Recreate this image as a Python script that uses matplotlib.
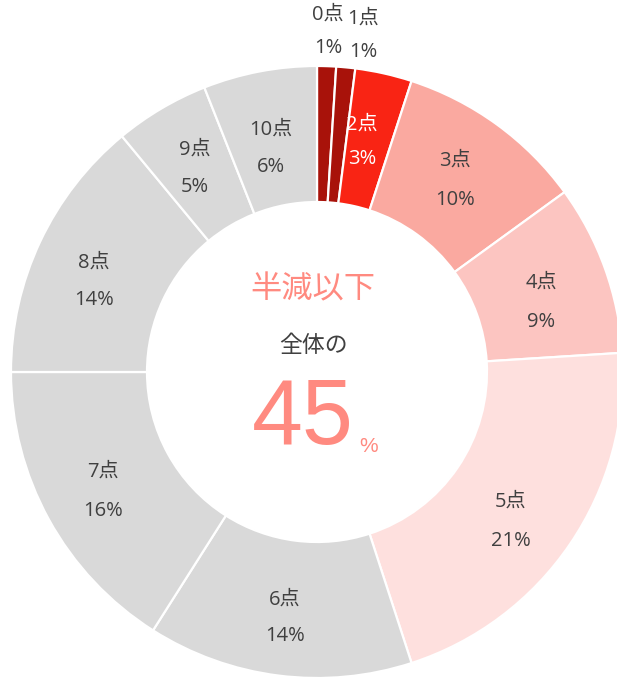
import matplotlib
matplotlib.use("Agg")
import matplotlib.pyplot as plt

categories = ["0点", "1点", "2点", "3点", "4点", "5点", "6点", "7点", "8点", "9点", "10点"]
values = [1, 1, 3, 10, 9, 21, 14, 16, 14, 5, 6]
pct_labels = ["1%", "1%", "3%", "10%", "9%", "21%", "14%", "16%", "14%", "5%", "6%"]
colors = ["#A8120A", "#A8120A", "#F92414", "#FAA9A0", "#FCC5C1", "#FEE0DE",
          "#D9D9D9", "#D9D9D9", "#D9D9D9", "#D9D9D9", "#D9D9D9"]
center_title = "半減以下"
center_sub = "全体の"
center_value = "45"

plt.rcParams['font.family'] = ['Noto Sans CJK JP', 'DejaVu Sans']
label_family = ['Open Sans', 'Noto Sans CJK JP', 'DejaVu Sans']

W, H = 617, 677
fig = plt.figure(figsize=(W / 100, H / 100), dpi=100)
ax = fig.add_axes([0, 0, 1, 1])

cx, cy = 317, H - 372
R = 306
inner = 170

wedges, _ = ax.pie(values, colors=colors, startangle=90, counterclock=False,
                   center=(cx, cy), radius=R, frame=True,
                   wedgeprops=dict(width=R - inner, edgecolor='white', linewidth=1.6))
ax.set_xlim(0, W)
ax.set_ylim(0, H)
ax.set_aspect('equal')
ax.axis('off')

# label positions (pixel coords, y from top)
label_pos = {
    0: (328, 15, 48),
    1: (363, 19, 52),
    2: (362, 125, 159),
    3: (455, 161, 200),
    4: (541, 283, 322),
    5: (511, 502, 541),
    6: (285, 600, 636),
    7: (103, 472, 511),
    8: (94, 263, 300),
    9: (195, 150, 187),
    10: (271, 130, 167),
}
for i, (cat, pl) in enumerate(zip(categories, pct_labels)):
    x, y1, y2 = label_pos[i]
    col = 'white' if i == 2 else '#404040'
    ax.text(x, H - y1, cat, ha='center', va='center', fontsize=14.5, color=col,
            family=label_family)
    ax.text(x, H - y2, pl, ha='center', va='center', fontsize=14.5, color=col,
            family=label_family)

ax.text(313, H - 289, center_title, ha='center', va='center', fontsize=22.5, color='#FF8A80')
ax.text(313, H - 345, center_sub, ha='center', va='center', fontsize=16.5, color='#404040')
ax.text(303, H - 420, center_value, ha='center', va='center', fontsize=66,
        color='#FF8A80', family=['Liberation Sans', 'DejaVu Sans'])
ax.text(369, H - 446, "%", ha='center', va='center', fontsize=15,
        color='#FF8A80', family=['Liberation Sans', 'DejaVu Sans'])

fig.savefig("out.png", dpi=100, facecolor='white')
